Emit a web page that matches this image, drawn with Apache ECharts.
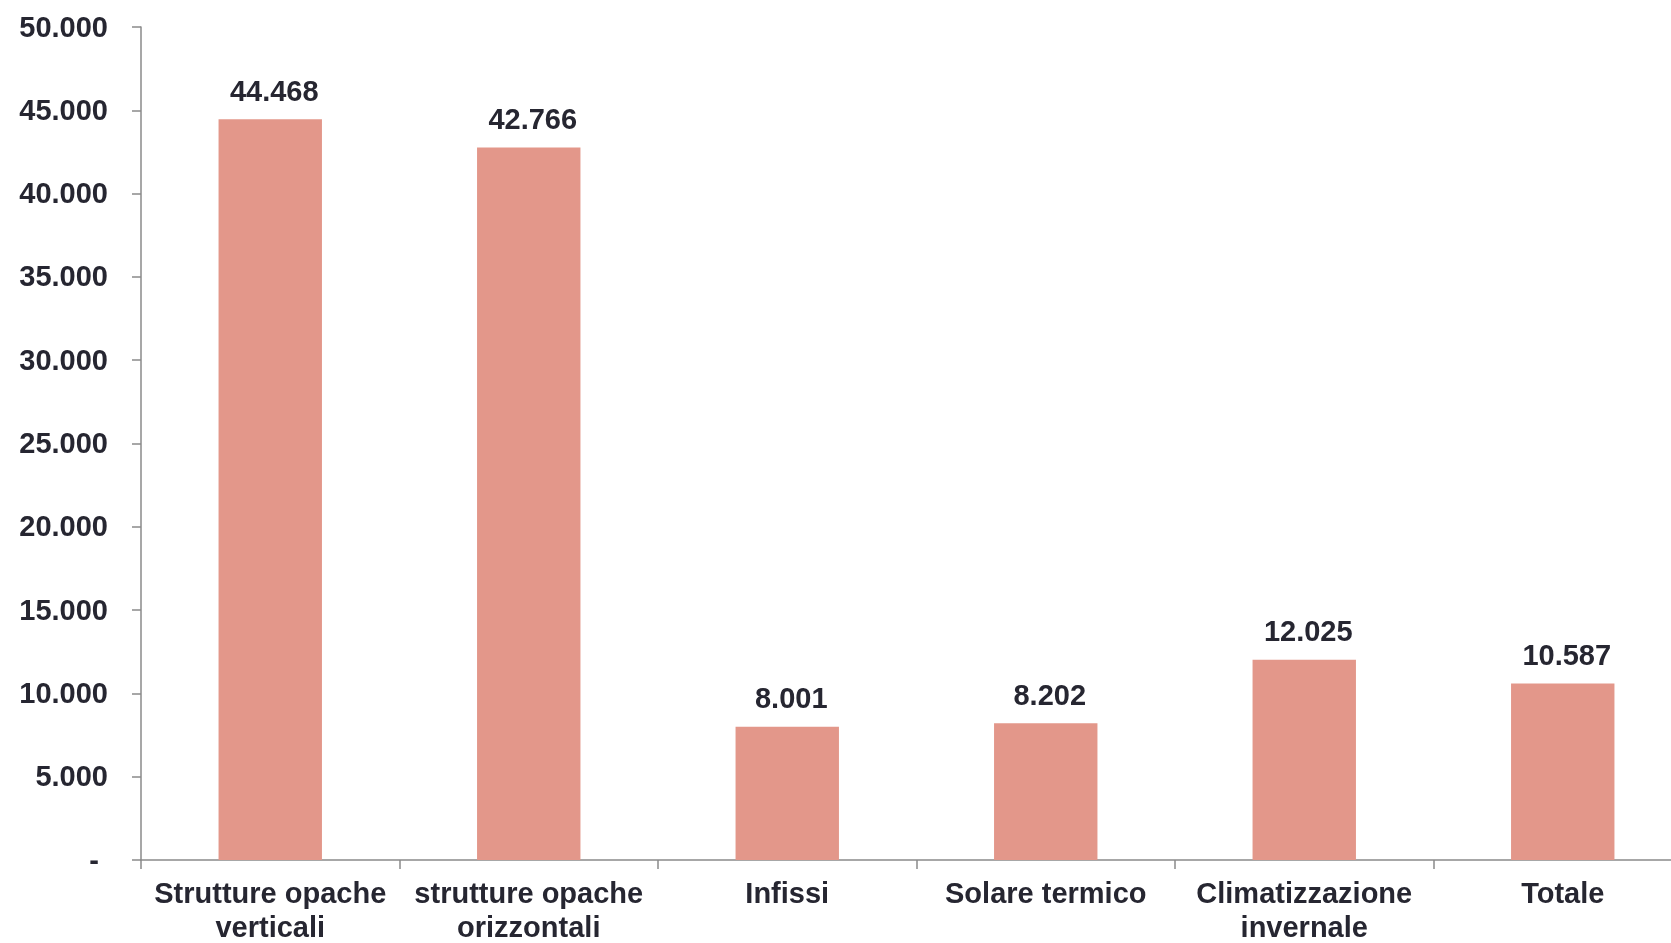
<!DOCTYPE html>
<html>
<head>
<meta charset="utf-8">
<script src="https://cdn.jsdelivr.net/npm/echarts@6/dist/echarts.min.js"></script>
<style>
html,body{margin:0;padding:0;background:#fff;}
#chart{width:1671px;height:943px;}
</style>
</head>
<body>
<div id="chart"></div>
<script>
const categories = ['Strutture opache\nverticali', 'strutture opache\norizzontali', 'Infissi', 'Solare termico', 'Climatizzazione\ninvernale', 'Totale'];
const values = [44468, 42766, 8001, 8202, 12025, 10587];
const yTicks = [0, 5000, 10000, 15000, 20000, 25000, 30000, 35000, 40000, 45000, 50000];

function fmt(v) {
  const s = String(Math.round(v));
  return s.replace(/\B(?=(\d{3})+(?!\d))/g, '.');
}

const FONT = 'Liberation Sans';
const TXT = '#262631';
const AX = '#8a8a8a';

const chart = echarts.init(document.getElementById('chart'), null, {renderer: 'canvas'});
chart.setOption({
  animation: false,
  backgroundColor: '#ffffff',
  grid: {left: 141, top: 27, width: 1551, height: 833, containLabel: false, outerBoundsMode: 'none'},
  xAxis: {
    type: 'category',
    data: categories,
    axisLine: {show: true, lineStyle: {color: AX, width: 1.5}},
    axisTick: {show: true, length: 9, inside: false, lineStyle: {color: AX, width: 1.5}},
    axisLabel: {
      interval: 0, margin: 18, color: TXT, fontFamily: FONT, fontWeight: 'bold',
      fontSize: 29, lineHeight: 34
    }
  },
  yAxis: {
    type: 'value',
    min: yTicks[0],
    max: yTicks[yTicks.length - 1],
    interval: 5000,
    splitLine: {show: false},
    axisLine: {show: true, lineStyle: {color: AX, width: 1.5}},
    axisTick: {show: true, length: 9, lineStyle: {color: AX, width: 1.5}},
    axisLabel: {
      margin: 33, color: TXT, fontFamily: FONT, fontWeight: 'bold', fontSize: 29,
      verticalAlign: 'middle', padding: [3, 0, 0, 0],
      formatter: function (v) { return v === 0 ? '{d|-}' : fmt(v); },
      rich: {d: {color: TXT, fontFamily: FONT, fontWeight: 'bold', fontSize: 29, padding: [0, 9, 0, 0]}}
    }
  },
  series: [{
    type: 'bar',
    data: values,
    barWidth: '40%',
    itemStyle: {color: '#e3978a'},
    label: {
      show: true, position: 'top', distance: 12, offset: [4, 0], color: TXT, fontFamily: FONT,
      fontWeight: 'bold', fontSize: 29,
      formatter: function (p) { return fmt(p.value); }
    }
  }]
});
</script>
</body>
</html>
